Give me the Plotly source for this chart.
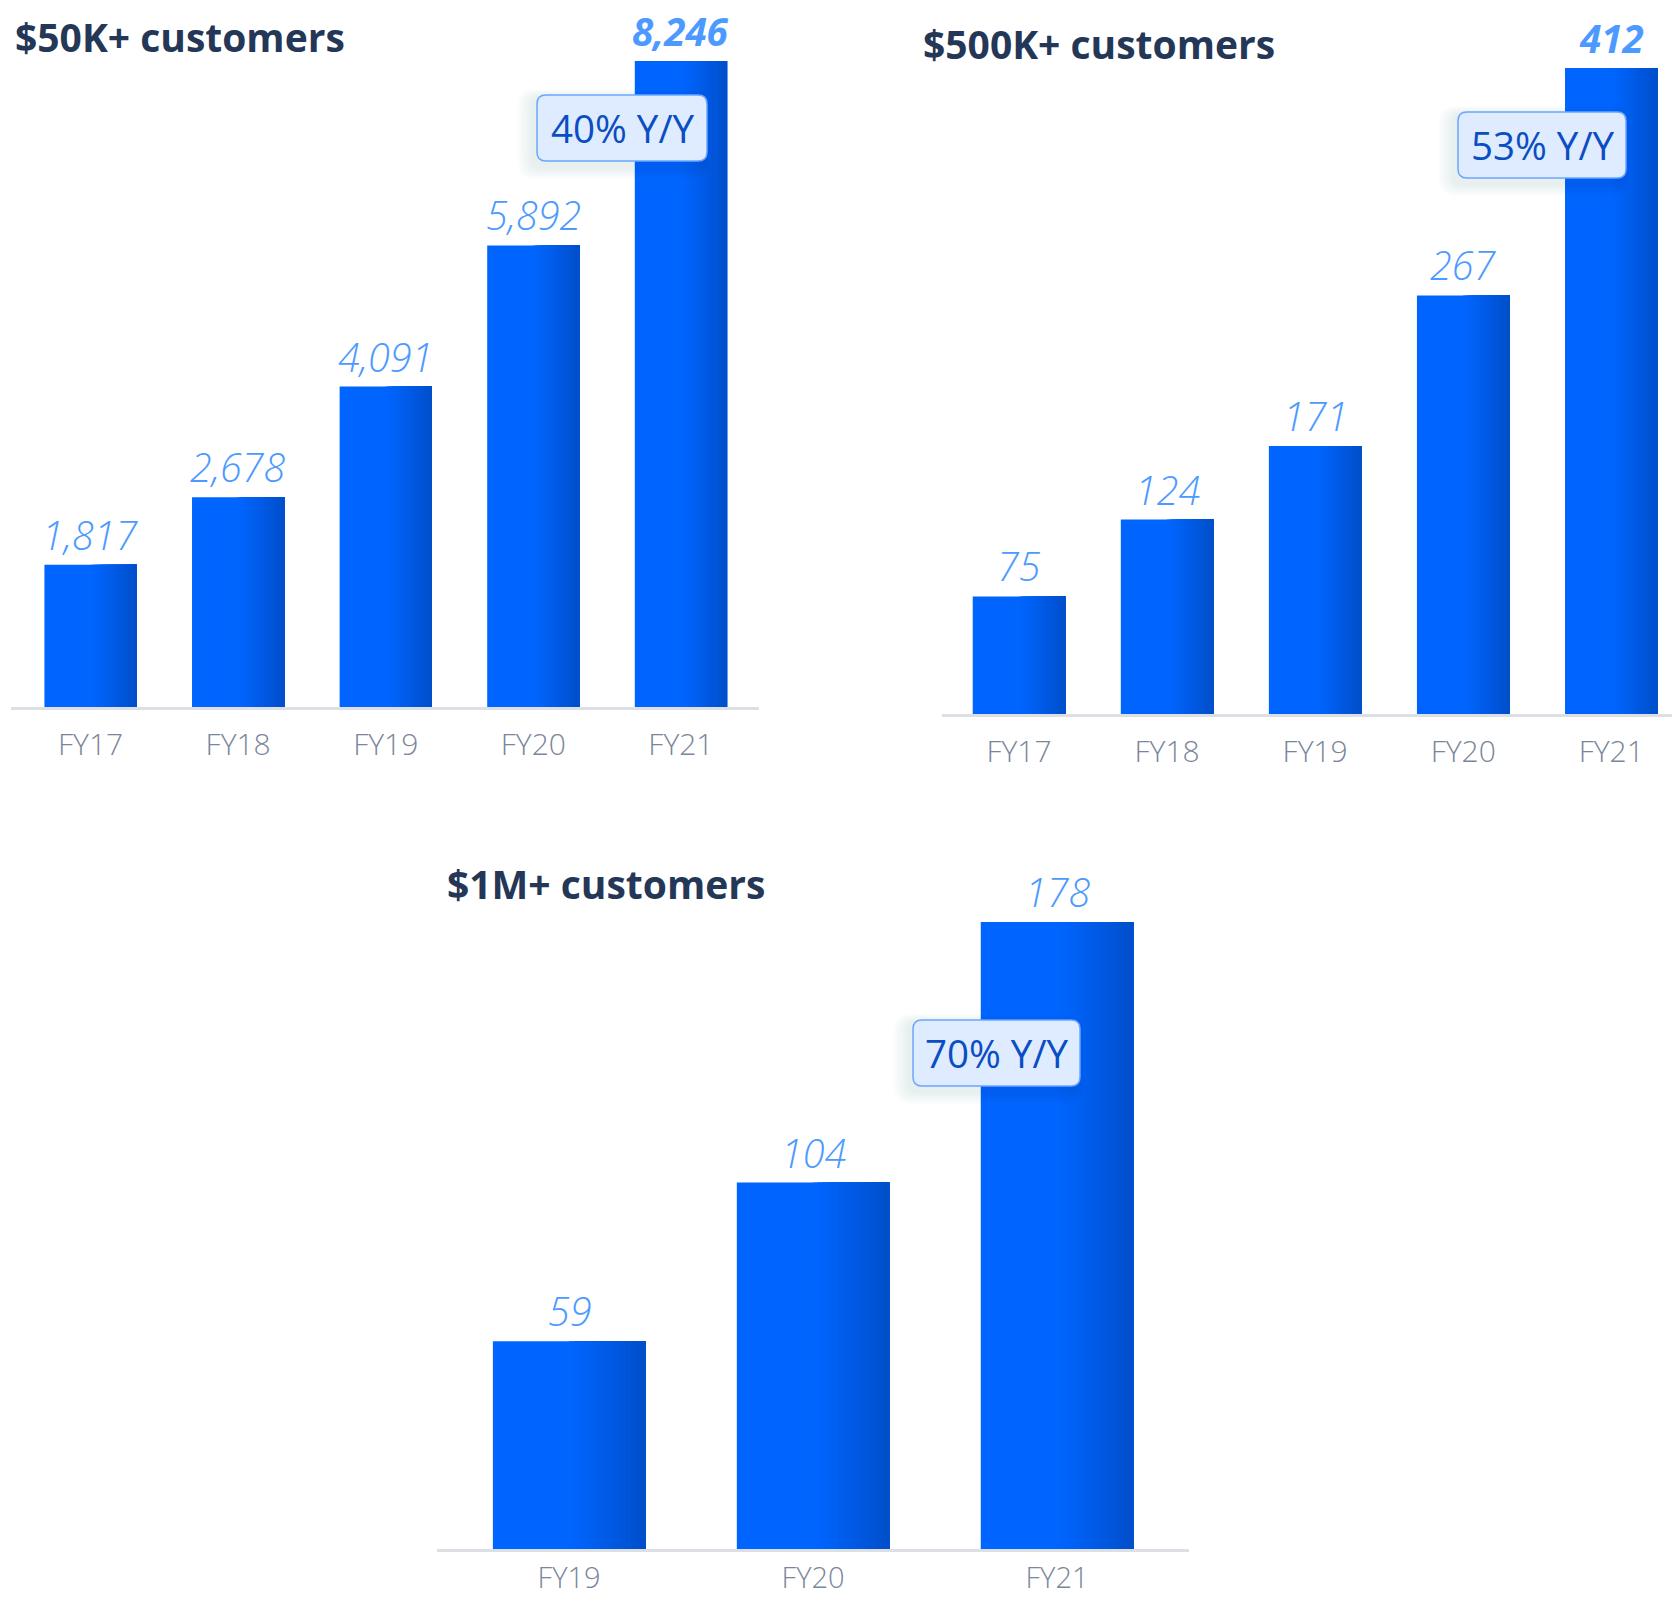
import plotly.graph_objects as go

W_PX, H_PX = 1672, 1602

# ---------------- data ----------------
cats_a = ["FY17", "FY18", "FY19", "FY20", "FY21"]
vals_50k = [1817, 2678, 4091, 5892, 8246]
vals_500k = [75, 124, 171, 267, 412]
cats_b = ["FY19", "FY20", "FY21"]
vals_1m = [59, 104, 178]
titles = ["$50K+ customers", "$500K+ customers", "$1M+ customers"]
yoy_labels = ["40% Y/Y", "53% Y/Y", "70% Y/Y"]
last_bold = [True, True, False]

# ---------------- style ----------------
BAR_W = 0.625
C_LEFT = (0x00, 0x65, 0xFF)
C_RIGHT = (0x00, 0x4F, 0xCB)
TITLE_C = "#243757"
VAL_C = "#4C9AFF"
TICK_C = "#7A869A"
AXIS_C = "#DCDFE4"
YOY_TXT = "#0B4DC2"
YOY_BG = "#DFEBFF"
YOY_BORDER = "#6AA6FF"


def px_x(p):
    return p / W_PX


def px_y(p):
    return 1 - p / H_PX


panels = [
    dict(cats=cats_a, vals=vals_50k, xd=(11, 759), xr=(-0.539, 4.529), base=707, top=0,
         ytop=9025, title=(13, 37), box=(537, 95, 707, 161), standoff=9, tsize=30),
    dict(cats=cats_a, vals=vals_500k, xd=(942, 1672), xr=(-0.52, 4.41), base=714, top=0,
         ytop=455.4, title=(921, 44), box=(1458, 112, 1626, 178), standoff=9, tsize=30),
    dict(cats=cats_b, vals=vals_1m, xd=(437, 1189), xr=(-0.5415, 2.541), base=1549, top=800,
         ytop=212.6, title=(445, 883), box=(913, 1020, 1080, 1086), standoff=1, tsize=29),
]

fig = go.Figure()
annotations = []
shapes = []

N_STRIPS = 16
S0 = 0.5


def mix(t):
    return "rgb({},{},{})".format(*[round(a + (b - a) * t) for a, b in zip(C_LEFT, C_RIGHT)])


def rrect(x0, y0, x1, y1, r):
    # pixel coords -> paper path with rounded corners
    rx, ry = r / W_PX, r / H_PX
    X0, X1 = px_x(x0), px_x(x1)
    Y0, Y1 = px_y(y0), px_y(y1)  # Y0 top (larger), Y1 bottom
    return (f"M {X0+rx},{Y0} L {X1-rx},{Y0} Q {X1},{Y0} {X1},{Y0-ry} "
            f"L {X1},{Y1+ry} Q {X1},{Y1} {X1-rx},{Y1} L {X0+rx},{Y1} "
            f"Q {X0},{Y1} {X0},{Y1+ry} L {X0},{Y0-ry} Q {X0},{Y0} {X0+rx},{Y0} Z")


for i, p in enumerate(panels):
    ax = "" if i == 0 else str(i + 1)
    xa, ya = "x" + ax, "y" + ax
    # main bars
    fig.add_trace(go.Bar(x=p["cats"], y=p["vals"], width=BAR_W, marker=dict(color=mix(0), line=dict(width=0)),
                         xaxis=xa, yaxis=ya, hoverinfo="skip", showlegend=False))
    # gradient strips on the right side of each bar
    for k in range(N_STRIPS):
        s = S0 + (1 - S0) * k / N_STRIPS
        t = ((k + 1) / N_STRIPS) ** 1.2
        fig.add_trace(go.Bar(x=p["cats"], y=p["vals"], width=BAR_W * (1 - s), offset=-BAR_W / 2 + BAR_W * s,
                             marker=dict(color=mix(t), line=dict(width=0)),
                             xaxis=xa, yaxis=ya, hoverinfo="skip", showlegend=False))
    # value labels
    n = len(p["vals"])
    for j, (c, v) in enumerate(zip(p["cats"], p["vals"])):
        bold = last_bold[i] and j == n - 1
        annotations.append(dict(x=c, y=v, xref=xa, yref=ya, text=f"{v:,}", showarrow=False,
                                yanchor="middle", yshift=30,
                                font=dict(family="Open Sans", size=38.5 if bold else 39.5, color=VAL_C,
                                          style="italic", weight=700 if bold else 300)))
    # title
    tx, ty = p["title"]
    annotations.append(dict(x=px_x(tx), y=px_y(ty), xref="paper", yref="paper", text=titles[i],
                            showarrow=False, xanchor="left", yanchor="middle",
                            font=dict(family="Open Sans", size=39, color=TITLE_C, weight=700)))
    # Y/Y box with soft shadow
    bx0, by0, bx1, by1 = p["box"]
    for g in range(8, 0, -1):
        shapes.append(dict(type="path", xref="paper", yref="paper", layer="above",
                           path=rrect(bx0 - 4 - g * 2, by0 + 2 - g, bx1 - 4 + g, by1 + 6 + g * 1.5, 10 + g),
                           fillcolor="rgba(40,50,80,0.012)", line=dict(width=0)))
    shapes.append(dict(type="path", xref="paper", yref="paper", layer="above",
                       path=rrect(bx0, by0, bx1, by1, 9),
                       fillcolor=YOY_BG, line=dict(color=YOY_BORDER, width=1.5)))
    annotations.append(dict(x=px_x((bx0 + bx1) / 2), y=px_y((by0 + by1) / 2), xref="paper", yref="paper",
                            text=yoy_labels[i], showarrow=False, xanchor="center", yanchor="middle",
                            font=dict(family="Open Sans", size=38.5, color=YOY_TXT)))

    xkey = "xaxis" + ax
    ykey = "yaxis" + ax
    fig.update_layout(**{
        xkey: dict(domain=[px_x(p["xd"][0]), px_x(p["xd"][1])], range=list(p["xr"]), type="category",
                   anchor=ya, showline=True, linecolor=AXIS_C, linewidth=3, showgrid=False, zeroline=False,
                   ticks="", ticklabelstandoff=p["standoff"], fixedrange=True, automargin=False,
                   tickfont=dict(family="Open Sans", size=p["tsize"], color=TICK_C, weight=300)),
        ykey: dict(domain=[px_y(p["base"]), px_y(p["top"])], range=[0, p["ytop"]], anchor=xa,
                   visible=False, showgrid=False, zeroline=False, fixedrange=True, automargin=False),
    })

fig.update_layout(width=W_PX, height=H_PX, margin=dict(l=0, r=0, t=0, b=0, autoexpand=False),
                  paper_bgcolor="white", plot_bgcolor="white", barmode="overlay",
                  annotations=annotations, shapes=shapes, showlegend=False)

fig.write_html("out.html", config={"displayModeBar": False})
